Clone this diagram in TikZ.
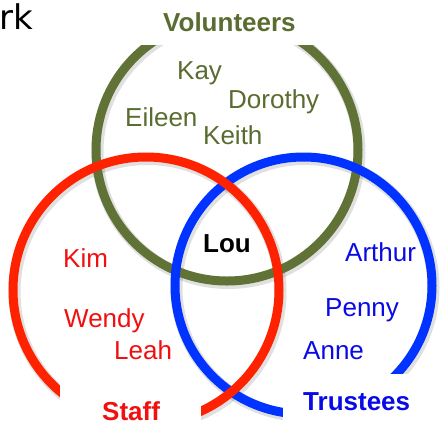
\documentclass[tikz,border=0pt]{standalone}
\usepackage{fontspec}
\setmainfont{Liberation Sans}
\newfontfamily\rkfont{DejaVu Sans}
\definecolor{olivec}{RGB}{96,114,54}
\definecolor{olivet}{RGB}{90,108,48}
\definecolor{redc}{RGB}{255,34,0}
\definecolor{redt}{RGB}{240,16,16}
\definecolor{bluec}{RGB}{0,51,255}
\definecolor{bluet}{RGB}{10,10,230}
\begin{document}
\begin{tikzpicture}[x=1pt,y=-1pt,
  ring/.style={circle,draw,line width=9pt,inner sep=0pt,outer sep=0pt},
  ringshadow/.style={circle,draw=black,draw opacity=0.12,line width=12pt,inner sep=0pt},
  maskbox/.style={fill=white,draw=none},
  nametext/.style={anchor=base west,inner sep=0pt,font=\fontsize{26}{30}\selectfont},
  titletext/.style={anchor=base west,inner sep=0pt,font=\fontsize{26}{30}\selectfont\bfseries}]
\useasboundingbox (0,0) rectangle (442,424);
\fill[white] (0,0) rectangle (442,424);
% shadows
\node[ringshadow,minimum size=262pt] (vs) at (228.5,152) {};
\node[ringshadow,minimum size=257pt] (ts) at (305,287.5) {};
\node[ringshadow,minimum size=266pt] (ss) at (147.5,292) {};
% circles
\node[ring,draw=olivec,minimum size=262pt] (vol) at (227,150) {};
\node[ring,draw=bluec,minimum size=257pt] (tru) at (303.5,285.5) {};
\node[ring,draw=redc,minimum size=266pt] (sta) at (146,290) {};
% masks
\path[maskbox] (100,-10) rectangle (360,45);
\path[maskbox] (60,383) rectangle (201,450);
\path[maskbox] (283,374) rectangle (460,450);
% titles
\node[titletext,text=olivet] (tvol) at (163,31) {Volunteers};
\node[titletext,text=redt] (tsta) at (102,420) {Staff};
\node[titletext,text=bluet] (ttru) at (303,410) {Trustees};
\node[titletext,text=black] (lou) at (203,252.5) {Lou};
% names
\node[nametext,text=olivet] (kay) at (177,79) {Kay};
\node[nametext,text=olivet] (dor) at (228,108) {Dorothy};
\node[nametext,text=olivet] (eil) at (125,126) {Eileen};
\node[nametext,text=olivet] (kei) at (203,144) {Keith};
\node[nametext,text=redt] (kim) at (63,267) {Kim};
\node[nametext,text=redt] (wen) at (64,327) {Wendy};
\node[nametext,text=redt] (lea) at (114,359) {Leah};
\node[nametext,text=bluet] (art) at (345,261) {Arthur};
\node[nametext,text=bluet] (pen) at (325,316) {Penny};
\node[nametext,text=bluet] (ann) at (303,359) {Anne};
% clipped heading
\node[anchor=base east,inner sep=0pt,font=\rkfont\fontsize{34}{40}\selectfont] (rk) at (33,29) {rk};
\end{tikzpicture}
\end{document}
